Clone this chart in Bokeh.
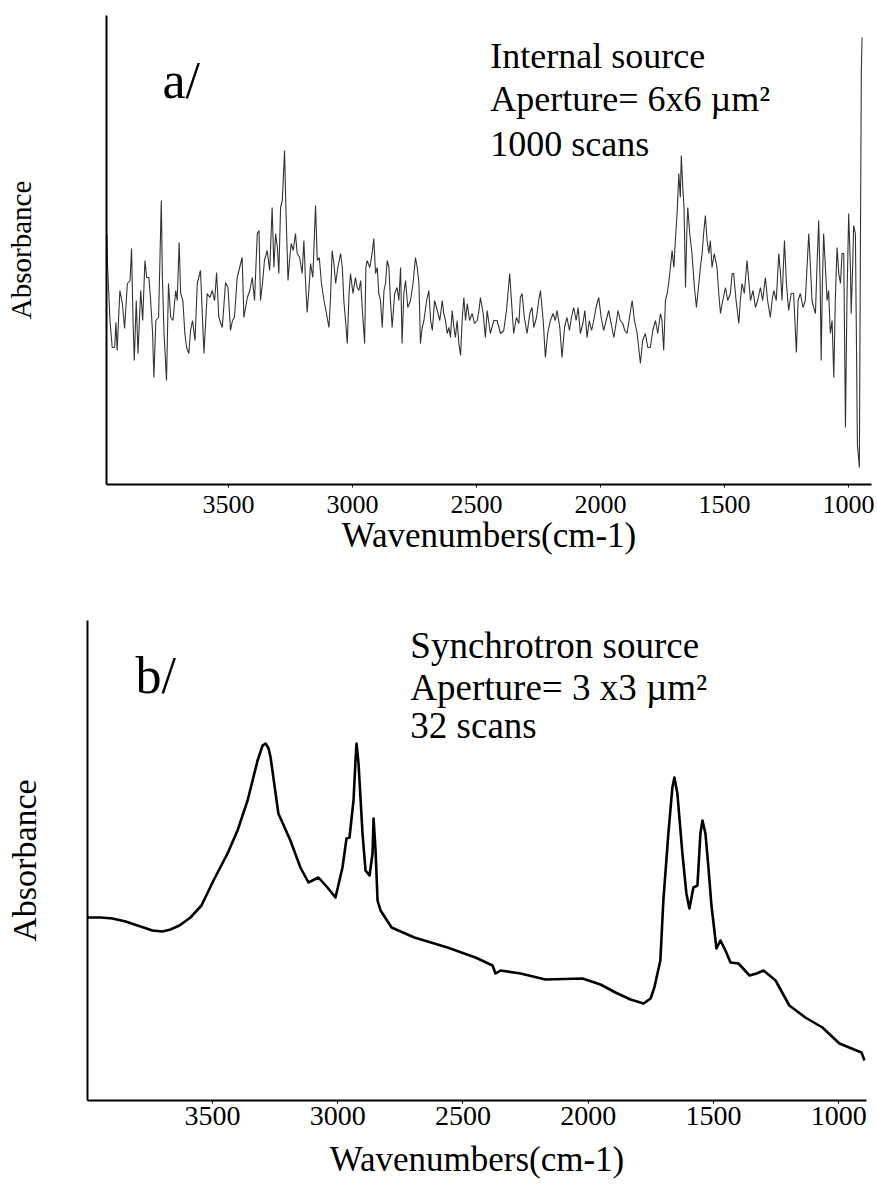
from bokeh.plotting import figure
from bokeh.models import Range1d, FixedTicker, Label
from bokeh.embed import file_html
from bokeh.resources import INLINE

# ---------------- data ----------------
tick_values = [3500, 3000, 2500, 2000, 1500, 1000]

# panel a: internal source, 1000 scans (noisy)
wn_a = [3990, 3988, 3978, 3969, 3959, 3954, 3949, 3938, 3928, 3919, 3908, 3897, 3891, 3885, 3880, 3872,
        3865, 3854, 3846, 3837, 3830, 3821, 3814, 3806, 3801, 3793, 3782, 3771, 3767, 3760, 3750, 3742,
        3733, 3724, 3713, 3707, 3699, 3693, 3684, 3676, 3669, 3660, 3653, 3645, 3635, 3626, 3613, 3605,
        3599, 3586, 3575, 3566, 3556, 3548, 3539, 3525, 3512, 3502, 3492, 3484, 3476, 3465, 3455, 3445,
        3438, 3424, 3414, 3404, 3395, 3384, 3377, 3371, 3363, 3355, 3344, 3334, 3324, 3317, 3310, 3303,
        3297, 3290, 3283, 3274, 3269, 3260, 3254, 3247, 3239, 3230, 3223, 3213, 3203, 3196, 3189, 3183,
        3176, 3169, 3160, 3149, 3142, 3134, 3125, 3115, 3105, 3095, 3089, 3082, 3075, 3068, 3059, 3048,
        3041, 3035, 3028, 3021, 3014, 3008, 2998, 2988, 2981, 2974, 2967, 2961, 2951, 2946, 2941, 2930,
        2921, 2914, 2907, 2900, 2894, 2887, 2880, 2873, 2867, 2860, 2853, 2847, 2840, 2830, 2820, 2813,
        2806, 2800, 2793, 2786, 2777, 2766, 2756, 2746, 2739, 2732, 2726, 2719, 2712, 2701, 2692, 2685,
        2678, 2669, 2658, 2648, 2638, 2632, 2625, 2618, 2611, 2605, 2598, 2591, 2585, 2578, 2571, 2564,
        2558, 2551, 2544, 2537, 2528, 2517, 2508, 2497, 2490, 2484, 2473, 2464, 2457, 2444, 2430, 2417,
        2403, 2390, 2379, 2366, 2359, 2350, 2339, 2329, 2323, 2316, 2307, 2296, 2285, 2276, 2269, 2258,
        2249, 2242, 2231, 2222, 2213, 2202, 2191, 2182, 2175, 2164, 2155, 2145, 2135, 2125, 2117, 2108,
        2098, 2090, 2081, 2071, 2063, 2054, 2045, 2036, 2027, 2018, 2007, 1997, 1987, 1977, 1967, 1957,
        1946, 1937, 1929, 1920, 1910, 1902, 1893, 1883, 1872, 1863, 1852, 1846, 1839, 1830, 1819, 1809,
        1799, 1789, 1778, 1769, 1758, 1752, 1745, 1738, 1731, 1725, 1718, 1711, 1704, 1698, 1691, 1684,
        1678, 1674, 1668, 1663, 1657, 1652, 1648, 1640, 1631, 1621, 1613, 1605, 1597, 1590, 1584, 1577,
        1570, 1563, 1557, 1550, 1541, 1530, 1523, 1516, 1507, 1496, 1487, 1476, 1469, 1463, 1453, 1442,
        1436, 1429, 1420, 1409, 1402, 1395, 1385, 1375, 1366, 1355, 1346, 1335, 1326, 1315, 1308, 1301,
        1291, 1281, 1274, 1268, 1258, 1250, 1241, 1231, 1221, 1210, 1203, 1194, 1183, 1174, 1167, 1160,
        1153, 1147, 1140, 1133, 1127, 1120, 1114, 1110, 1105, 1100, 1093, 1086, 1080, 1073, 1066, 1059,
        1053, 1046, 1039, 1032, 1026, 1019, 1012, 1006, 999, 992, 989, 983, 979, 972, 968, 964,
        956, 952, 948, 945]
abs_a = [2.50, 2.20, 1.64, 1.37, 1.37, 1.62, 1.34, 1.94, 1.81, 1.56, 2.01, 2.04, 2.36, 1.64, 1.24, 1.84,
         1.31, 1.94, 1.64, 2.24, 2.07, 2.07, 1.84, 1.51, 1.07, 1.64, 1.67, 2.84, 2.11, 1.51, 1.04, 2.01,
         1.67, 1.64, 1.94, 1.84, 2.42, 1.91, 1.84, 1.51, 1.37, 1.31, 1.54, 1.64, 1.44, 2.01, 2.14, 1.67,
         1.31, 1.91, 1.87, 1.94, 1.84, 2.12, 1.67, 1.57, 2.02, 1.97, 1.54, 1.64, 1.67, 2.07, 2.17, 2.27,
         1.67, 1.87, 1.94, 2.07, 1.84, 2.51, 2.54, 1.84, 2.01, 2.24, 2.34, 2.14, 2.77, 2.17, 2.51, 2.37,
         2.11, 2.77, 2.84, 3.34, 2.81, 2.04, 2.24, 2.41, 2.34, 2.51, 2.31, 2.27, 2.11, 2.44, 2.01, 1.72,
         1.94, 2.21, 2.07, 2.79, 2.24, 2.27, 2.01, 1.84, 1.71, 1.57, 1.84, 2.34, 2.21, 2.01, 2.17, 2.31,
         2.17, 1.84, 1.64, 1.41, 1.91, 2.11, 1.91, 2.07, 1.97, 1.94, 2.04, 1.77, 1.41, 2.17, 2.24, 2.17,
         2.31, 2.46, 2.11, 2.17, 1.91, 1.84, 1.57, 1.94, 2.01, 2.24, 2.17, 1.84, 1.57, 1.91, 1.97, 1.84,
         2.17, 1.41, 1.91, 2.04, 1.77, 1.84, 2.01, 2.27, 2.17, 2.01, 1.41, 1.57, 1.64, 1.84, 1.94, 1.64,
         1.54, 1.84, 1.74, 1.64, 1.84, 1.71, 1.64, 1.51, 1.57, 1.47, 1.74, 1.57, 1.47, 1.64, 1.41, 1.29,
         1.64, 1.87, 1.64, 1.81, 1.64, 1.71, 1.61, 1.64, 1.74, 1.87, 1.71, 1.47, 1.74, 1.51, 1.64, 1.64,
         1.51, 1.54, 1.74, 2.11, 1.84, 1.51, 1.67, 1.61, 1.87, 1.91, 1.67, 1.51, 1.71, 1.77, 1.57, 1.67,
         1.84, 1.94, 1.64, 1.27, 1.51, 1.64, 1.71, 1.64, 1.74, 1.57, 1.27, 1.57, 1.67, 1.54, 1.67, 1.77,
         1.64, 1.77, 1.51, 1.61, 1.74, 1.47, 1.64, 1.54, 1.64, 1.77, 1.87, 1.67, 1.54, 1.64, 1.74, 1.61,
         1.47, 1.61, 1.74, 1.64, 1.61, 1.54, 1.51, 1.67, 1.84, 1.64, 1.51, 1.37, 1.21, 1.44, 1.51, 1.37,
         1.37, 1.54, 1.64, 1.51, 1.71, 1.64, 1.34, 1.84, 1.91, 2.01, 2.17, 2.34, 2.17, 2.44, 2.71, 3.11,
         2.87, 3.29, 2.97, 2.77, 1.97, 2.51, 2.77, 2.51, 2.31, 1.97, 1.77, 1.97, 2.17, 2.31, 2.51, 2.69,
         2.44, 2.31, 2.44, 2.17, 2.31, 2.17, 1.91, 1.71, 1.84, 1.97, 1.84, 1.91, 2.11, 2.11, 1.84, 1.61,
         1.84, 2.01, 1.91, 2.24, 2.04, 1.84, 1.94, 1.77, 1.84, 1.97, 1.84, 2.07, 1.84, 1.67, 1.84, 1.94,
         1.84, 2.31, 2.11, 1.84, 2.44, 2.01, 1.74, 1.91, 1.91, 1.32, 1.84, 1.91, 1.77, 1.84, 2.17, 2.51,
         2.17, 1.84, 1.77, 1.71, 2.17, 2.64, 2.01, 1.24, 2.01, 2.51, 2.17, 1.84, 1.94, 1.51, 1.64, 1.07,
         1.84, 2.37, 2.11, 2.01, 2.31, 2.31, 0.57, 1.84, 2.71, 2.17, 1.71, 2.17, 2.59, 2.51, 1.51, 0.41,
         0.17, 2.24, 4.14, 4.47]

# panel b: synchrotron source, 32 scans (smooth)
wn_b = [3999, 3947, 3899, 3847, 3787, 3740, 3700, 3668, 3632, 3588, 3544, 3496, 3440, 3400, 3360, 3320,
        3300, 3288, 3276, 3268, 3237, 3189, 3149, 3117, 3077, 3041, 3009, 2981, 2965, 2953, 2937, 2929,
        2925, 2917, 2901, 2889, 2873, 2861, 2857, 2849, 2841, 2829, 2785, 2694, 2562, 2450, 2382, 2370,
        2350, 2270, 2171, 2023, 1951, 1891, 1831, 1779, 1751, 1736, 1712, 1700, 1680, 1664, 1656, 1644,
        1624, 1608, 1596, 1580, 1564, 1552, 1544, 1532, 1520, 1508, 1488, 1472, 1452, 1432, 1400, 1356,
        1328, 1300, 1252, 1197, 1133, 1065, 997, 929, 909, 897]
abs_b = [1.83, 1.83, 1.82, 1.79, 1.74, 1.70, 1.69, 1.71, 1.75, 1.83, 1.95, 2.20, 2.47, 2.70, 3.00, 3.40,
         3.55, 3.57, 3.52, 3.43, 2.87, 2.60, 2.33, 2.18, 2.23, 2.13, 2.03, 2.33, 2.62, 2.63, 3.00, 3.40,
         3.57, 3.37, 2.67, 2.30, 2.25, 2.47, 2.82, 2.50, 2.00, 1.90, 1.73, 1.63, 1.53, 1.43, 1.35, 1.27,
         1.30, 1.27, 1.21, 1.22, 1.16, 1.08, 1.01, 0.97, 1.02, 1.13, 1.40, 2.00, 2.67, 3.13, 3.23, 3.07,
         2.47, 2.07, 1.92, 2.13, 2.15, 2.67, 2.80, 2.67, 2.33, 1.95, 1.52, 1.60, 1.50, 1.38, 1.37, 1.25,
         1.27, 1.30, 1.20, 0.95, 0.83, 0.73, 0.57, 0.50, 0.48, 0.40]

SERIF = "Liberation Serif"


def style(p, tick_size, title_size, tick_standoff, title_standoff, ylabel_size, ylabel_standoff):
    p.toolbar_location = None
    p.outline_line_color = None
    p.xgrid.visible = False
    p.ygrid.visible = False
    p.background_fill_color = "white"
    p.border_fill_color = "white"

    xa = p.xaxis[0]
    xa.ticker = FixedTicker(ticks=tick_values)
    xa.axis_line_width = 2
    xa.axis_line_color = "black"
    xa.major_tick_in = 0
    xa.major_tick_out = 3
    xa.major_tick_line_width = 1
    xa.minor_tick_line_color = None
    xa.major_label_text_font = SERIF
    xa.major_label_text_font_size = tick_size
    xa.major_label_text_color = "black"
    xa.major_label_standoff = tick_standoff
    xa.axis_label = "Wavenumbers(cm-1)"
    xa.axis_label_text_font = SERIF
    xa.axis_label_text_font_style = "normal"
    xa.axis_label_text_font_size = title_size
    xa.axis_label_text_color = "black"
    xa.axis_label_standoff = title_standoff

    ya = p.yaxis[0]
    ya.ticker = FixedTicker(ticks=[])
    ya.axis_line_width = 2
    ya.axis_line_color = "black"
    ya.major_tick_line_color = None
    ya.major_tick_out = 0
    ya.major_tick_in = 0
    ya.minor_tick_line_color = None
    ya.major_label_text_font_size = "0px"
    ya.major_label_standoff = 0
    ya.axis_label = "Absorbance"
    ya.axis_label_text_font = SERIF
    ya.axis_label_text_font_style = "normal"
    ya.axis_label_text_font_size = ylabel_size
    ya.axis_label_text_color = "black"
    ya.axis_label_standoff = ylabel_standoff


def add_text(p, x, y, txt, size):
    p.add_layout(Label(x=x, y=y, text=txt, text_font=SERIF, text_font_size=size,
                       text_color="black", text_align="left", text_baseline="alphabetic"))


# ---------------- panel a ----------------
pa = figure(width=877, height=575, output_backend="svg", toolbar_location=None,
            x_range=Range1d(3992, 907), y_range=Range1d(0, 4.69),
            min_border_left=106, min_border_right=6, min_border_top=15, min_border_bottom=91)
style(pa, "26px", "35px", 8, 0, "29px", 70)
pa.line(wn_a, abs_a, line_color="#333333", line_width=1.1)
add_text(pa, 3766, 4.04, "a/", "52px")
add_text(pa, 2444, 4.29, "Internal source", "36px")
add_text(pa, 2444, 3.86, "Aperture= 6x6 \u00b5m\u00b2", "36px")
add_text(pa, 2444, 3.41, "1000 scans", "36px")

# ---------------- panel b ----------------
pb = figure(width=877, height=612, output_backend="svg", toolbar_location=None,
            x_range=Range1d(3999, 889), y_range=Range1d(0, 4.80),
            min_border_left=87, min_border_right=11, min_border_top=45, min_border_bottom=87)
style(pb, "28px", "35px", 3, 12, "34px", 45)
pb.line(wn_b, abs_b, line_color="black", line_width=2.6, line_join="round")
add_text(pb, 3807, 4.25, "b/", "52px")
add_text(pb, 2710, 4.55, "Synchrotron source", "37px")
add_text(pb, 2710, 4.13, "Aperture= 3 x3  \u00b5m\u00b2", "37px")
add_text(pb, 2710, 3.75, "32 scans", "37px")

open("out.html", "w").write(file_html([pa, pb], INLINE))
